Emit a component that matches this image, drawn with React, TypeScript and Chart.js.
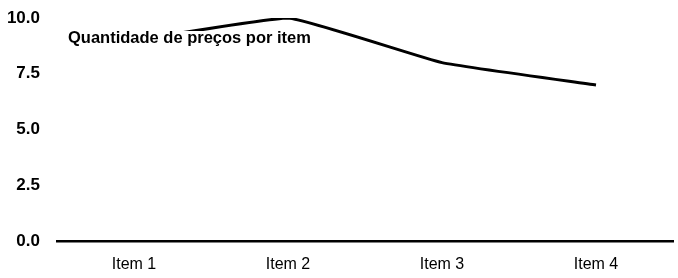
import React, { useEffect, useRef } from "react";
import { Chart, registerables } from "chart.js";

Chart.register(...registerables);

const categories = ["Item 1", "Item 2", "Item 3", "Item 4"];
const precos = [9, 10, 8, 7];
const titleText = "Quantidade de preços por item";

const FONT = "'Liberation Sans', Arial, sans-serif";

const titlePlugin = {
  id: "innerTitle",
  afterDatasetsDraw(chart: any) {
    const { ctx } = chart;
    ctx.save();
    ctx.font = `bold 16.5px ${FONT}`;
    const x = 68;
    const y = 38;
    const w = ctx.measureText(titleText).width;
    ctx.fillStyle = "#ffffff";
    ctx.fillRect(x - 4, y - 7, w + 8, 16);
    ctx.fillStyle = "#000000";
    ctx.textBaseline = "middle";
    ctx.textAlign = "left";
    ctx.fillText(titleText, x, y);
    ctx.restore();
  },
};

export default function App() {
  const ref = useRef<HTMLCanvasElement>(null);
  useEffect(() => {
    document.body.style.margin = "0";
    const chart = new Chart(ref.current!, {
      type: "line",
      data: {
        labels: categories,
        datasets: [
          {
            label: titleText,
            data: precos,
            borderColor: "#000000",
            borderWidth: 3,
            pointRadius: 0,
            tension: 0.12,
            fill: false,
          },
        ],
      },
      options: {
        responsive: false,
        animation: false,
        layout: { padding: { top: 18, right: 5, bottom: 0, left: 0 } },
        plugins: {
          legend: { display: false },
          tooltip: { enabled: false },
          title: { display: false },
        },
        scales: {
          x: {
            offset: true,
            grid: { display: false, drawTicks: false },
            border: { display: true, color: "#000000", width: 2.5 },
            afterFit: (s: any) => {
              s.height = 37;
            },
            ticks: {
              color: "#000000",
              font: { family: FONT, size: 16 },
              padding: 14,
            },
          },
          y: {
            min: 0,
            max: 10,
            grid: { display: false, drawTicks: false },
            border: { display: false },
            afterFit: (s: any) => {
              s.width = 57;
              s.paddingTop = 0;
              s.paddingBottom = 0;
            },
            ticks: {
              stepSize: 2.5,
              color: "#000000",
              font: { family: FONT, size: 17, weight: "bold" },
              padding: 17,
              callback: (v: any) => Number(v).toFixed(1),
            },
          },
        },
      },
      plugins: [titlePlugin],
    });
    return () => chart.destroy();
  }, []);
  return <canvas ref={ref} width={678} height={278} />;
}
